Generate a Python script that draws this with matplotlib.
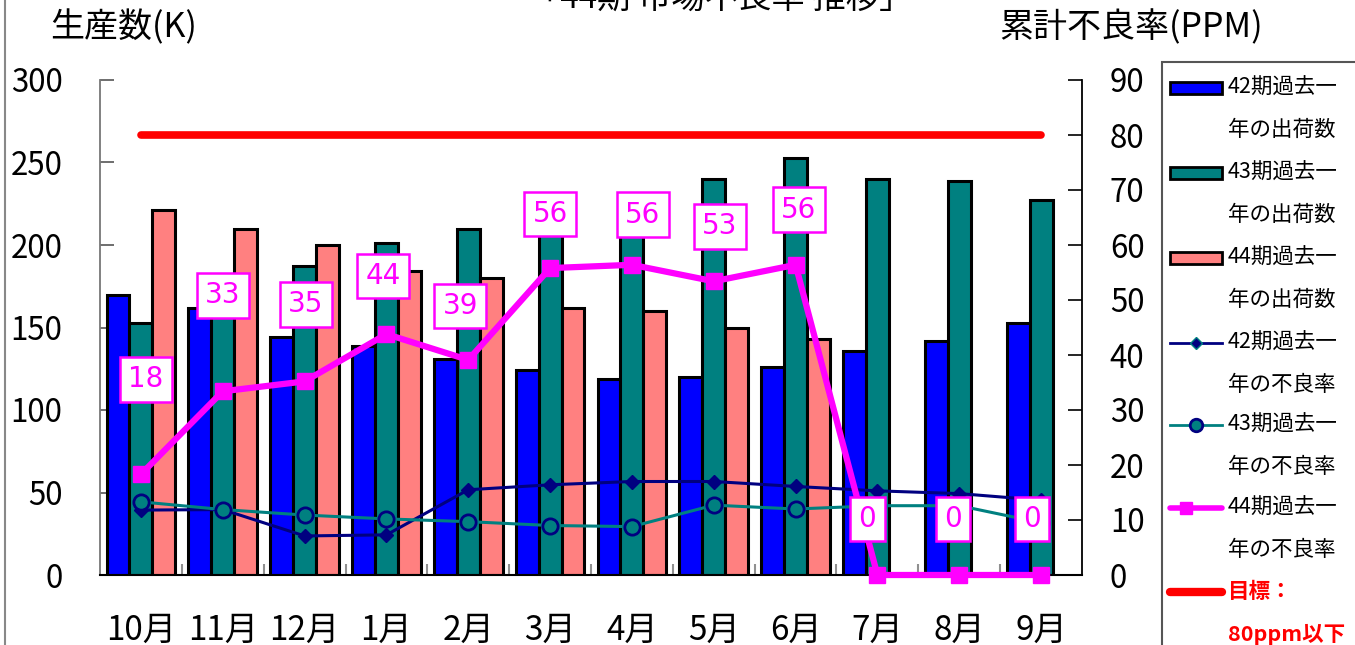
import numpy as np
import matplotlib
matplotlib.use('Agg')
import matplotlib.pyplot as plt
from matplotlib.patches import Rectangle
from matplotlib.lines import Line2D

plt.rcParams['font.family'] = ['Noto Sans CJK JP', 'DejaVu Sans']

# data
months = ['10月', '11月', '12月', '1月', '2月', '3月', '4月', '5月', '6月', '7月', '8月', '9月']
ship_42 = [170, 162, 144, 139, 131, 124, 119, 120, 126, 136, 142, 153]
ship_43 = [153, 171, 187, 201, 210, 220, 230, 240, 253, 240, 239, 227]
ship_44 = [221, 210, 200, 184, 180, 162, 160, 150, 143, np.nan, np.nan, np.nan]
rate_42 = [11.8, 11.9, 7.1, 7.3, 15.5, 16.4, 17.0, 17.0, 16.1, 15.3, 14.8, 13.6]
rate_43 = [13.3, 11.9, 10.9, 10.2, 9.7, 9.0, 8.8, 12.7, 12.0, 12.6, 12.6, 9.5]
rate_44 = [18.3, 33.4, 35.2, 43.8, 39.1, 55.8, 56.4, 53.4, 56.4, 0, 0, 0]
target = 80

# label box offsets in pixels (dx, dy) as placed in the original
label_offsets = [(5, 95), (0, 96), (1, 77), (-3, 58), (-8, 54), (0, 54),
                 (11, 50), (6, 55), (3, 55), (-10, 56), (-6, 56), (-9, 56)]

x = np.arange(len(months))
w = 0.28

fig = plt.figure(figsize=(13.55, 6.45), dpi=100)
ax = fig.add_axes([100 / 1355, 70 / 645, 982 / 1355, 495 / 645])
ax2 = ax.twinx()

bar_kw = dict(width=w, edgecolor='black', linewidth=2.2, zorder=2)
ax.bar(x - w, ship_42, color='#0000FF', **bar_kw)
ax.bar(x, ship_43, color='#008080', **bar_kw)
ax.bar(x + w, ship_44, color='#FF8080', **bar_kw)

ax.set_xlim(-0.5, 11.5)
ax.set_ylim(0, 300)
ax.set_yticks(range(0, 301, 50))
ax.set_xticks(x)
ax.set_xticklabels(months, fontsize=24)
ax.set_xticks(x[:-1] + 0.5, minor=True)
ax.tick_params(axis='x', which='major', length=0, pad=27)
ax.tick_params(axis='x', which='minor', length=8, direction='in', color='#909090', width=1.5)
ax.tick_params(axis='y', direction='in', length=10, width=1.2, color='#555555', pad=27, labelsize=22.5)
ax.spines['top'].set_visible(False)
ax.spines['right'].set_visible(False)
ax.spines['left'].set_color('#777777')
ax.spines['left'].set_linewidth(1.3)
ax.spines['bottom'].set_linewidth(1.5)

ax2.set_ylim(0, 90)
ax2.set_yticks(range(0, 91, 10))
ax2.tick_params(axis='y', direction='in', length=10, width=1.2, pad=20, labelsize=22.5)
ax2.spines['top'].set_visible(False)
ax2.spines['left'].set_visible(False)
ax2.spines['bottom'].set_visible(False)
ax2.spines['right'].set_linewidth(1.3)

ax2.plot(x, [target] * len(x), color='#FF0000', lw=5.5, solid_capstyle='round', zorder=3)
ax2.plot(x, rate_42, color='#000080', lw=2.2, marker='D', ms=7,
         mfc='#000080', mec='#000080', zorder=4)
ax2.plot(x, rate_43, color='#008080', lw=2.2, marker='o', ms=11,
         mfc='#008080', mec='#000080', mew=2, zorder=4)
ax2.plot(x, rate_44, color='#FF00FF', lw=4.5, marker='s', ms=12,
         mfc='#FF00FF', mec='#FF00FF', zorder=5, clip_on=False)

for xi, v, (dx, dy) in zip(x, rate_44, label_offsets):
    ax2.annotate(f'{v:.0f}', (xi, v), xytext=(dx, dy), textcoords='offset pixels',
                 ha='center', va='center', fontsize=20, color='#FF00FF', family='DejaVu Sans',
                 bbox=dict(boxstyle='square,pad=0.3', fc='white', ec='#FF00FF', lw=1.8),
                 zorder=6, annotation_clip=False)

# axis titles and cut-off chart title
fig.text(124 / 1355, 1 - 28 / 645, '生産数(K)', fontsize=24.5, ha='center', va='center')
fig.text(1131 / 1355, 1 - 28 / 645, '累計不良率(PPM)', fontsize=24.5, ha='center', va='center')
fig.text(720 / 1355, 1 - 8 / 645, '「44期 市場不良率 推移」', fontsize=24, ha='center', va='baseline')

# outer chart border on the left
fig.add_artist(Line2D([5 / 1355, 5 / 1355], [0, 1], transform=fig.transFigure, color='#888888', lw=1.5))

# legend box drawn by hand (text wraps onto two lines, handle on the first)
fig.add_artist(Rectangle((1162 / 1355, -0.05), 0.2, 1.05 - 62 / 645, transform=fig.transFigure,
                         fill=False, ec='#555555', lw=1.5))
entries = [
    ('bar', '#0000FF', '42期過去一', '年の出荷数'),
    ('bar', '#008080', '43期過去一', '年の出荷数'),
    ('bar', '#FF8080', '44期過去一', '年の出荷数'),
    ('l42', None, '42期過去一', '年の不良率'),
    ('l43', None, '43期過去一', '年の不良率'),
    ('l44', None, '44期過去一', '年の不良率'),
    ('tgt', None, '目標：', '80ppm以下'),
]
y_first = [88, 173, 258, 343, 425, 508, 592]
for (kind, col, t1, t2), yp in zip(entries, y_first):
    yf = 1 - yp / 645
    y2 = 1 - (yp + 42) / 645
    x0, x1 = 1170 / 1355, 1222 / 1355
    xm = (x0 + x1) / 2
    if kind == 'bar':
        fig.add_artist(Rectangle((x0, yf - 6 / 645), x1 - x0, 12 / 645, transform=fig.transFigure,
                                 fc=col, ec='black', lw=2))
    elif kind == 'l42':
        fig.add_artist(Line2D([x0, x1], [yf, yf], transform=fig.transFigure, color='#000080', lw=2))
        fig.add_artist(Line2D([xm], [yf], transform=fig.transFigure, marker='D', ms=6,
                              mfc='#000080', mec='#008080', mew=1))
    elif kind == 'l43':
        fig.add_artist(Line2D([x0, x1], [yf, yf], transform=fig.transFigure, color='#008080', lw=2))
        fig.add_artist(Line2D([xm], [yf], transform=fig.transFigure, marker='o', ms=9,
                              mfc='#008080', mec='#000080', mew=2))
    elif kind == 'l44':
        fig.add_artist(Line2D([x0, x1], [yf, yf], transform=fig.transFigure, color='#FF00FF', lw=4,
                              solid_capstyle='round'))
        fig.add_artist(Line2D([x0 + 0.3 * (x1 - x0)], [yf], transform=fig.transFigure, marker='s',
                              ms=9, mfc='#FF00FF', mec='#FF00FF'))
    else:
        fig.add_artist(Line2D([x0, x1], [yf, yf], transform=fig.transFigure, color='#FF0000', lw=6,
                              solid_capstyle='round'))
    tcol = '#FF0000' if kind == 'tgt' else 'black'
    wt = 'bold' if kind == 'tgt' else 'normal'
    fig.text(1228 / 1355, yf, t1, fontsize=15.5, color=tcol, weight=wt, va='center', ha='left')
    fig.text(1228 / 1355, y2, t2, fontsize=15.5, color=tcol, weight=wt, va='center', ha='left')

fig.savefig('out.png', dpi=100)
